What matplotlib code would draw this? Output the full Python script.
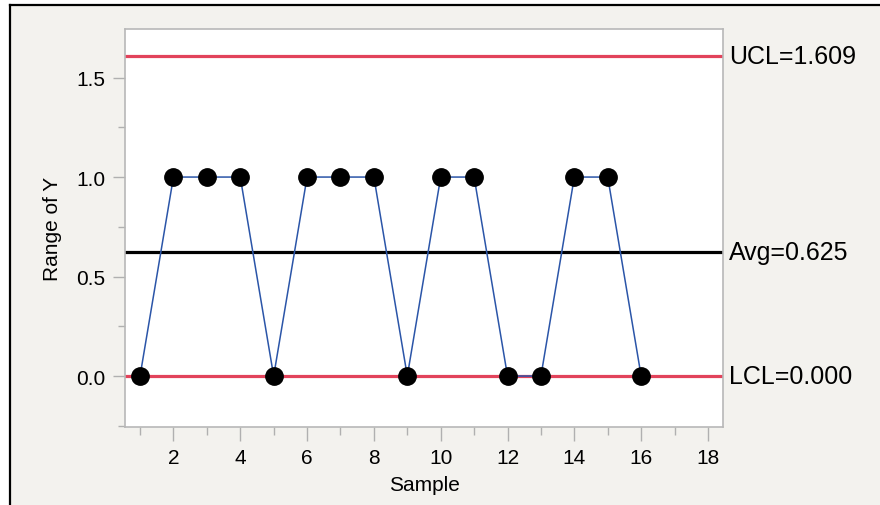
import matplotlib
matplotlib.use("Agg")
import matplotlib.pyplot as plt
from matplotlib.lines import Line2D
from matplotlib.ticker import MultipleLocator

plt.rcParams['font.family'] = ['Liberation Sans', 'DejaVu Sans']

samples = list(range(1, 17))
ranges = [0, 1, 1, 1, 0, 1, 1, 1, 0, 1, 1, 0, 0, 1, 1, 0]
ucl = 1.609
avg = 0.625
lcl = 0.0
limit_labels = ["UCL=1.609", "Avg=0.625", "LCL=0.000"]

W, H = 880, 506
fig = plt.figure(figsize=(W / 100, H / 100), dpi=100)
fig.patch.set_facecolor('white')

# panel background and screenshot border
bg = plt.Rectangle((10 / W, 0), 1 - 10 / W, 1 - 6 / H, transform=fig.transFigure,
                   facecolor='#f3f2ee', edgecolor='none', zorder=-10)
fig.patches.append(bg)
fig.lines.append(Line2D([10 / W, 1], [1 - 6 / H, 1 - 6 / H], transform=fig.transFigure,
                        color='black', lw=1.6, zorder=-5))
fig.lines.append(Line2D([10 / W, 10 / W], [0, 1 - 6 / H], transform=fig.transFigure,
                        color='black', lw=1.6, zorder=-5))

ax = fig.add_axes([125 / W, 1 - 428 / H, (723 - 125) / W, (428 - 30) / H])
ax.set_zorder(5)
ax.set_facecolor('white')
ax.set_xlim(0.55, 18.45)
ax.set_ylim(-0.256, 1.744)

red = '#e2435b'
ax.axhline(ucl, color=red, lw=2.3, zorder=2)
ax.axhline(lcl, color=red, lw=2.3, zorder=2)
ax.axhline(avg, color='black', lw=2.3, zorder=2)

ax.plot(samples, ranges, color='#2b55a8', lw=1.1, marker='o', markersize=12.5,
        markerfacecolor='black', markeredgecolor='black', zorder=3)

for s in ax.spines.values():
    s.set_color('#b8b8b8')
    s.set_linewidth(1.2)

ax.xaxis.set_major_locator(MultipleLocator(2))
ax.xaxis.set_minor_locator(MultipleLocator(1))
ax.yaxis.set_major_locator(MultipleLocator(0.5))
ax.yaxis.set_minor_locator(MultipleLocator(0.25))
ax.yaxis.set_major_formatter(plt.FuncFormatter(lambda v, p: f"{v:.1f}"))
ax.tick_params(which='major', length=9, width=1.0, color='#b0b0b0', labelsize=15, pad=5)
ax.tick_params(which='minor', length=5, width=1.0, color='#b0b0b0')
ax.tick_params(axis='x', which='major', length=10, pad=5)
ax.tick_params(axis='x', which='minor', length=6)

ax.set_xlabel('Sample', fontsize=15, labelpad=6)
ax.set_ylabel('Range of Y', fontsize=15, labelpad=10)

for val, lab in zip([ucl, avg, lcl], limit_labels):
    ax.annotate(lab, xy=(1.0, val), xycoords=('axes fraction', 'data'),
                xytext=(6, 0), textcoords='offset pixels', va='center', ha='left',
                fontsize=18, color='black', annotation_clip=False)

fig.savefig('out.png', dpi=100, facecolor=fig.get_facecolor())
